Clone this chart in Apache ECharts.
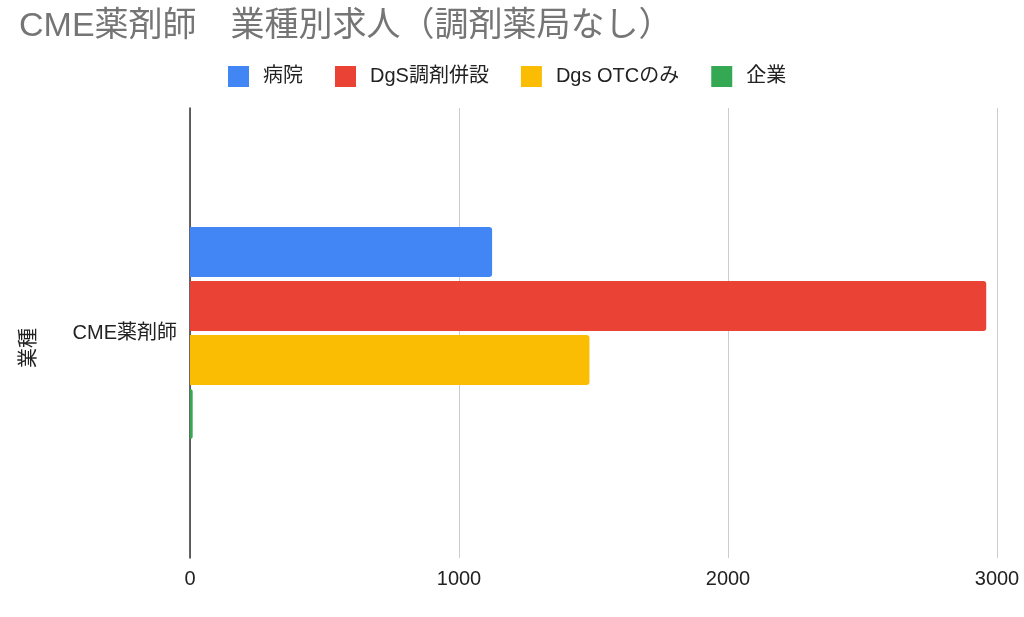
<!DOCTYPE html>
<html>
<head>
<meta charset="utf-8">
<script src="https://cdn.jsdelivr.net/npm/echarts@6/dist/echarts.min.js"></script>
<style>
	html, body { margin: 0; padding: 0; background: #fff; }
	#main { width: 1024px; height: 617px; }
</style>
</head>
<body>
<div id="main"></div>
<script>
	// 業種別求人のデータ
	var categories = ['CME薬剤師'];
	var seriesNames = ['病院', 'DgS調剤併設', 'Dgs OTCのみ', '企業'];
	var hospital = [1123];
	var dgsChouzai = [2960];
	var dgsOtc = [1485];
	var kigyou = [10];
	var xTicks = [0, 1000, 2000, 3000];

	var colors = ['#4285F4', '#EA4335', '#FBBC04', '#34A853'];
	var font = '"Liberation Sans", "Noto Sans CJK JP", sans-serif';

	var myChart = echarts.init(document.getElementById('main'));

	function makeSeries(name, data, color){
		return {
			name: name,
			type: 'bar',
			data: data,
			barWidth: 50,
			barGap: '8%',
			itemStyle: {
				color: color,
				borderRadius: [0, 3, 3, 0]
			}
		};
	}

	var option = {
		animation: false,
		color: colors,
		title: {
			text: 'CME薬剤師　業種別求人（調剤薬局なし）',
			left: 14,
			top: 5,
			textStyle: {
				fontFamily: font,
				fontSize: 34,
				fontWeight: 'normal',
				color: '#757575'
			}
		},
		legend: {
			data: seriesNames,
			left: 228,
			top: 66,
			padding: 0,
			itemWidth: 21,
			itemHeight: 21,
			itemGap: 32,
			icon: 'rect',
			itemStyle: { borderRadius: 2 },
			textStyle: {
				fontFamily: font,
				fontSize: 20,
				color: '#222',
				padding: [0, 0, 0, 9]
			}
		},
		grid: {
			left: 190,
			right: 27,
			top: 108,
			bottom: 59,
			containLabel: false
		},
		xAxis: {
			type: 'value',
			min: xTicks[0],
			max: xTicks[xTicks.length - 1],
			interval: 1000,
			axisLine: { show: false },
			axisTick: { show: false },
			splitLine: {
				show: true,
				lineStyle: { color: '#cccccc', width: 1 }
			},
			axisLabel: {
				fontFamily: font,
				fontSize: 20,
				color: '#222',
				margin: 11,
				formatter: function(v){ return String(v); }
			}
		},
		yAxis: {
			type: 'category',
			data: categories,
			inverse: true,
			name: '業種',
			nameLocation: 'middle',
			nameGap: 151,
			nameRotate: 90,
			nameTextStyle: {
				fontFamily: font,
				fontSize: 20,
				color: '#222',
				padding: [0, 30, 0, 0]
			},
			axisLine: {
				show: true,
				lineStyle: { color: '#333', width: 1.5 }
			},
			axisTick: { show: false },
			axisLabel: {
				fontFamily: font,
				fontSize: 20,
				color: '#222',
				margin: 13
			}
		},
		series: [
			makeSeries(seriesNames[0], hospital, colors[0]),
			makeSeries(seriesNames[1], dgsChouzai, colors[1]),
			makeSeries(seriesNames[2], dgsOtc, colors[2]),
			makeSeries(seriesNames[3], kigyou, colors[3])
		]
	};
	myChart.setOption(option);
</script>
</body>
</html>
